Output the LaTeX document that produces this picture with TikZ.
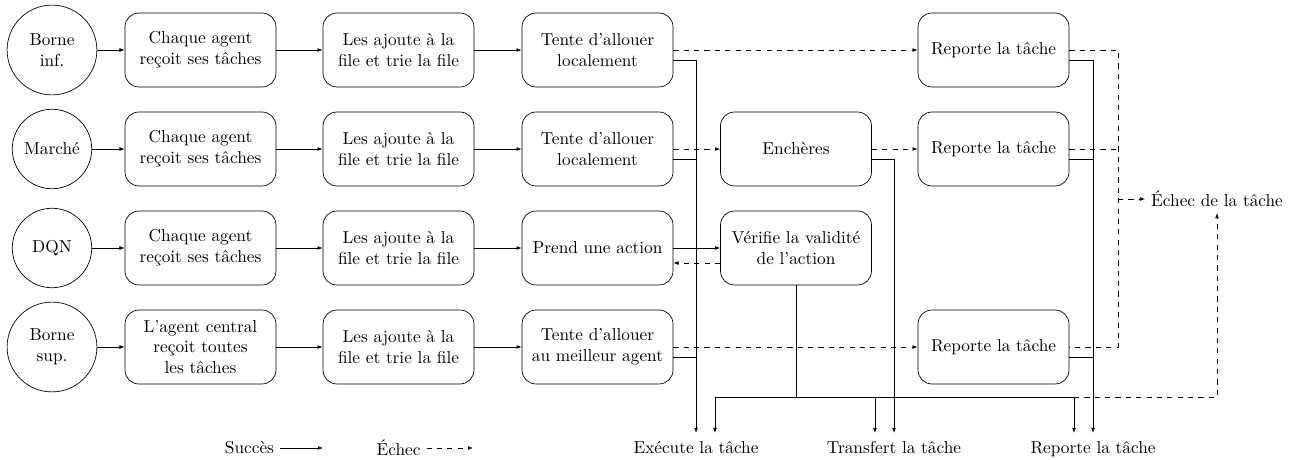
\documentclass[tikz,border=0pt]{standalone}
\usetikzlibrary{arrows.meta}
\begin{document}
\begin{tikzpicture}[>={Latex[length=3pt,width=2.2pt]}, x=0.579pt, y=-0.579pt,
  source/.style={circle, draw, minimum size=46pt, inner sep=1pt, align=center},
  etape/.style={draw, rounded corners=8pt, minimum width=87.4pt, minimum height=42.8pt, align=center},
  sortie/.style={anchor=north, text height=8.2pt, text depth=0pt}]
\useasboundingbox (0,0) rectangle (1297,460);

\node[source, minimum size=52pt] (c1) at (52,50) {Borne\\inf.};
\node[source] (c2) at (52,149) {Marché};
\node[source] (c3) at (52,248) {DQN};
\node[source, minimum size=52pt] (c4) at (52,347) {Borne\\sup.};

\node[etape] (a1) at (200.5,50) {Chaque agent\\reçoit ses tâches};
\node[etape] (a2) at (200.5,149) {Chaque agent\\reçoit ses tâches};
\node[etape] (a3) at (200.5,248) {Chaque agent\\reçoit ses tâches};
\node[etape] (a4) at (200.5,347) {L'agent central\\reçoit toutes\\les tâches};

\node[etape] (b1) at (398.5,50) {Les ajoute à la\\file et trie la file};
\node[etape] (b2) at (398.5,149) {Les ajoute à la\\file et trie la file};
\node[etape] (b3) at (398.5,248) {Les ajoute à la\\file et trie la file};
\node[etape] (b4) at (398.5,347) {Les ajoute à la\\file et trie la file};

\node[etape] (t1) at (597.5,50) {Tente d'allouer\\localement};
\node[etape] (t2) at (597.5,149) {Tente d'allouer\\localement};
\node[etape] (t3) at (597.5,248) {Prend une action};
\node[etape] (t4) at (597.5,347) {Tente d'allouer\\au meilleur agent};

\node[etape] (e2) at (796,149) {Enchères};
\node[etape] (v3) at (796,248) {Vérifie la validité\\de l'action};

\node[etape] (r1) at (993.5,50) {Reporte la tâche};
\node[etape] (r2) at (993.5,149) {Reporte la tâche};
\node[etape] (r4) at (993.5,347) {Reporte la tâche};

\node[sortie] (exec) at (696,433) {Exécute la tâche};
\node[sortie] (trans) at (894,433) {Transfert la tâche};
\node[sortie] (rep) at (1093,433) {Reporte la tâche};
\node (echec) at (1217,199) {Échec de la tâche};
\coordinate (ec) at (1118,199);
\coordinate (bus) at (796,397);

\draw[->] (c1) -- (a1);
\draw[->] (c2) -- (a2);
\draw[->] (c3) -- (a3);
\draw[->] (c4) -- (a4);
\draw[->] (a1) -- (b1);
\draw[->] (a2) -- (b2);
\draw[->] (a3) -- (b3);
\draw[->] (a4) -- (b4);
\draw[->] (b1) -- (t1);
\draw[->] (b2) -- (t2);
\draw[->] (b3) -- (t3);
\draw[->] (b4) -- (t4);

\draw[->, dashed] (t1.east) -- (r1.west);
\draw[->, dashed] (t2.east) -- (e2.west);
\draw[->, dashed] (t4.east) -- (r4.west);
\draw[->, dashed] (e2.east) -- (r2.west);
\draw[->] (t3.east) -- (v3.west);
\draw[->, dashed] ([yshift=-8.7pt]v3.west) -- ([yshift=-8.7pt]t3.east);

\draw[->] ([yshift=-5.8pt]t1.east) -| (exec.north);
\draw ([yshift=-5.8pt]t2.east) -- ([yshift=-5.8pt]t2.east -| exec.north);
\draw ([yshift=-5.8pt]t4.east) -- ([yshift=-5.8pt]t4.east -| exec.north);
\draw[->] ([yshift=-5.8pt]e2.east) -| (trans.north);
\draw[->] ([yshift=-5.8pt]r1.east) -| (rep.north);
\draw ([yshift=-5.8pt]r2.east) -- ([yshift=-5.8pt]r2.east -| rep.north);
\draw ([yshift=-5.8pt]r4.east) -- ([yshift=-5.8pt]r4.east -| rep.north);

\draw (v3.south) -- (bus);
\draw[->] (bus) -| ([xshift=11pt]exec.north);
\draw[->] (bus) -| ([xshift=-11pt]trans.north);
\draw[->] (bus) -| ([xshift=-11pt]rep.north);
\draw[->, dashed] ([xshift=-11pt]rep.north |- bus) -| (echec.south);

\draw[dashed] (r1.east) -| (ec) |- (r4.east);
\draw[dashed] (r2.east) -- (r2.east -| ec);
\draw[->, dashed] (ec) -- (echec.west);

\node (succ) at (249.5,448) {Succès};
\node (ech) at (398.5,448) {Échec};
\coordinate (succfin) at (323,448);
\coordinate (echfin) at (473,448);
\draw[->] (succ.east) -- (succfin);
\draw[->, dashed] (ech.east) -- (echfin);

\end{tikzpicture}
\end{document}
